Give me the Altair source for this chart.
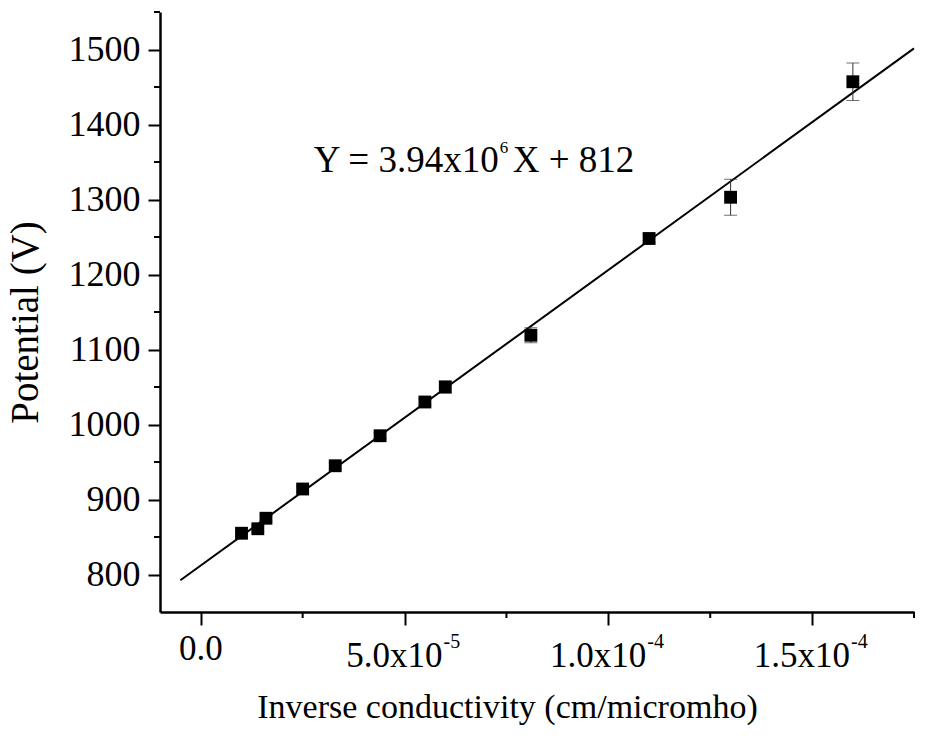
import altair as alt
import pandas as pd

# Measured points: inverse conductivity (cm/micromho) vs potential (V)
inv_cond = [1.0e-5, 1.4e-5, 1.6e-5, 2.5e-5, 3.3e-5, 4.4e-5, 5.5e-5, 6.0e-5, 8.1e-5, 1.1e-4, 1.3e-4, 1.6e-4]
potential = [855, 861, 875, 914, 945, 985, 1030, 1050, 1119, 1248, 1303, 1457]
pot_err = [4, 4, 4, 4, 4, 4, 4, 8, 10, 6, 24, 25]

# Linear fit Y = 3.94e6 X + 812, drawn across this range of X
fit_slope = 3.94e6
fit_intercept = 812
fit_x = [-5e-6, 1.75e-4]

# Axis ranges and ticks
x_domain = [-1e-5, 1.75e-4]
y_domain = [750, 1550]
x_major = [0.0, 5e-5, 1e-4, 1.5e-4]
x_minor = [2.5e-5, 7.5e-5, 1.25e-4, 1.75e-4]
y_major = [800, 900, 1000, 1100, 1200, 1300, 1400, 1500]
y_minor = [850, 950, 1050, 1150, 1250, 1350, 1450, 1550]

# x tick labels written as mantissa x 10 with a raised exponent
x_lab_vals = [5e-5, 1e-4, 1.5e-4]
x_lab_base = ["5.0x10", "1.0x10", "1.5x10"]
x_lab_exp = ["-5", "-4", "-4"]
x_zero_label = "0.0"

# Equation annotation position (data units)
eq_x = 7.31e-5
eq_y = 1337

FONT = "Liberation Serif"
W, H = 754, 600

pts = pd.DataFrame({"x": inv_cond, "y": potential,
                    "lo": [p - e for p, e in zip(potential, pot_err)],
                    "hi": [p + e for p, e in zip(potential, pot_err)]})
fit = pd.DataFrame({"x": fit_x, "y": [fit_slope * v + fit_intercept for v in fit_x]})

xs = alt.Scale(domain=x_domain, nice=False, zero=False)
ys = alt.Scale(domain=y_domain, nice=False, zero=False)

x_axis = alt.Axis(values=x_major, labels=False, grid=False, tickSize=13, tickWidth=2,
                  domainWidth=2.5, domainColor="black", tickColor="black",
                  title="Inverse conductivity (cm/micromho)", titleFont=FONT,
                  titleFontSize=34, titleFontWeight="normal", titleColor="black",
                  titleX=347, titleY=105, titleAlign="center", titleBaseline="alphabetic")
y_axis = alt.Axis(values=y_major, format="d", grid=False, tickSize=12, tickWidth=2,
                  domainWidth=2.5, domainColor="black", tickColor="black",
                  labelFont=FONT, labelFontSize=36, labelColor="black", labelPadding=8,
                  title="Potential (V)", titleFont=FONT, titleFontSize=39,
                  titleFontWeight="normal", titleColor="black",
                  titleX=-123, titleY=310, titleAlign="center", titleBaseline="alphabetic",
                  titleAngle=270)

base = alt.Chart(pts)

line = alt.Chart(fit).mark_line(color="black", strokeWidth=2).encode(
    x=alt.X("x:Q", scale=xs, axis=x_axis),
    y=alt.Y("y:Q", scale=ys, axis=y_axis),
)

err = base.mark_rule(color="#333333", strokeWidth=1).encode(
    x=alt.X("x:Q", scale=xs), y=alt.Y("lo:Q", scale=ys), y2="hi:Q")
cap_lo = base.mark_tick(color="#333333", thickness=1, size=13, orient="horizontal").encode(
    x=alt.X("x:Q", scale=xs), y=alt.Y("lo:Q", scale=ys))
cap_hi = base.mark_tick(color="#333333", thickness=1, size=13, orient="horizontal").encode(
    x=alt.X("x:Q", scale=xs), y=alt.Y("hi:Q", scale=ys))

markers = base.mark_point(shape="square", filled=True, color="black", size=165, opacity=1).encode(
    x=alt.X("x:Q", scale=xs), y=alt.Y("y:Q", scale=ys))

# minor ticks
xminor = alt.Chart(pd.DataFrame({"v": x_minor})).mark_rule(color="black", strokeWidth=2).encode(
    x=alt.X("v:Q", scale=xs), y=alt.value(H), y2=alt.value(H + 6))
yminor = alt.Chart(pd.DataFrame({"v": y_minor})).mark_rule(color="black", strokeWidth=2).encode(
    y=alt.Y("v:Q", scale=ys), x=alt.value(-6), x2=alt.value(0))

# x tick labels
zero_lab = alt.Chart(pd.DataFrame({"v": [0.0], "t": [x_zero_label]})).mark_text(
    font=FONT, fontSize=35, color="black", align="center", baseline="alphabetic").encode(
    x=alt.X("v:Q", scale=xs), y=alt.value(H + 48), text="t:N")
labs = pd.DataFrame({"v": x_lab_vals, "b": x_lab_base, "e": x_lab_exp})
lab_base = alt.Chart(labs).mark_text(
    font=FONT, fontSize=35, color="black", align="right", baseline="alphabetic", dx=38).encode(
    x=alt.X("v:Q", scale=xs), y=alt.value(H + 55), text="b:N")
lab_exp = alt.Chart(labs).mark_text(
    font=FONT, fontSize=20, color="black", align="left", baseline="alphabetic", dx=39).encode(
    x=alt.X("v:Q", scale=xs), y=alt.value(H + 36), text="e:N")

# equation annotation
eq = pd.DataFrame({"x": [eq_x], "y": [eq_y], "a": ["Y = 3.94x10"], "s": ["6"], "r": ["X + 812"]})
eq_a = alt.Chart(eq).mark_text(font=FONT, fontSize=37, color="black", align="right",
                               baseline="alphabetic").encode(
    x=alt.X("x:Q", scale=xs), y=alt.Y("y:Q", scale=ys), text="a:N")
eq_s = alt.Chart(eq).mark_text(font=FONT, fontSize=17, color="black", align="left",
                               baseline="alphabetic", dx=1, dy=-19).encode(
    x=alt.X("x:Q", scale=xs), y=alt.Y("y:Q", scale=ys), text="s:N")
eq_r = alt.Chart(eq).mark_text(font=FONT, fontSize=37, color="black", align="left",
                               baseline="alphabetic", dx=14).encode(
    x=alt.X("x:Q", scale=xs), y=alt.Y("y:Q", scale=ys), text="r:N")

chart = alt.layer(
    line, err, cap_lo, cap_hi, markers, xminor, yminor,
    zero_lab, lab_base, lab_exp, eq_a, eq_s, eq_r,
).properties(
    width=W, height=H,
    autosize=alt.AutoSizeParams(type="none"),
    padding={"left": 160, "top": 12, "right": 13, "bottom": 124},
    background="white",
).configure_view(stroke=None)

chart.save("out.html", embed_options={"renderer": "svg", "actions": False})
